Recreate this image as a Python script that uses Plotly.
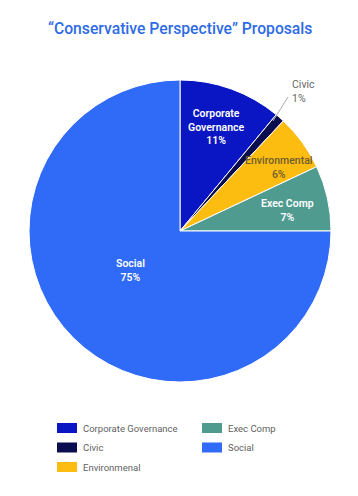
import plotly.graph_objects as go

categories = ["Corporate Governance", "Civic", "Environmental", "Exec Comp", "Social"]
legend_names = ["Corporate Governance", "Civic", "Environmenal", "Exec Comp", "Social"]
values = [11, 1, 6, 7, 75]
colors = ["#0a16c4", "#0a0d4e", "#fdbd10", "#4f9b90", "#2f6bf7"]
label_names = ["Corporate<br>Governance", "Civic", "Environmental", "Exec Comp", "Social"]
label_colors = ["white", "#666666", "#6e5c2c", "white", "white"]

OFF = 8  # page body margin
W, H = 358 - OFF, 496 - OFF
cx, cy, r = 180, 231, 151
FONT = "Roboto, Arial, sans-serif"

def px(x):
    return (x - OFF) / W

def py(y):
    return 1 - (y - OFF) / H

fig = go.Figure()
fig.add_trace(go.Pie(
    labels=categories,
    values=values,
    sort=False,
    direction="clockwise",
    rotation=0,
    marker=dict(colors=colors, line=dict(color="white", width=1)),
    textinfo="none",
    hoverinfo="label+percent",
    showlegend=False,
    domain=dict(x=[px(cx - r), px(cx + r)], y=[py(cy + r), py(cy - r)]),
))

# label positions (pixels)
label_pos = [(216, 127), (290, 91), (279, 168), (287, 211), (130, 270)]
annotations = []
total = sum(values)
for i, (name, v) in enumerate(zip(label_names, values)):
    x, y = label_pos[i]
    pct = round(100 * v / total)
    if name == "Civic":
        annotations.append(dict(
            x=px(x), y=py(y), xref="paper", yref="paper",
            text=f"{name}<br>{pct}%", showarrow=False, xanchor="left", yanchor="middle",
            align="left",
            font=dict(family=FONT, size=10.5, color=label_colors[i]),
        ))
    else:
        annotations.append(dict(
            x=px(x), y=py(y), xref="paper", yref="paper",
            text=f"{name}<br>{pct}%", showarrow=False, xanchor="center", yanchor="middle",
            align="center",
            font=dict(family=FONT, size=10.5, color=label_colors[i],
                      weight=600 if label_colors[i] == "white" else 500),
        ))

shapes = [dict(type="line", xref="paper", yref="paper",
               x0=px(273), y0=py(121), x1=px(288), y1=py(97),
               line=dict(color="#aaaaaa", width=1))]

# manual legend
col_x = [57, 202]
row_y = [428, 447.5, 467]
for i, (name, c) in enumerate(zip(legend_names, colors)):
    col, row = i // 3, i % 3
    x0 = col_x[col]
    yc = row_y[row]
    shapes.append(dict(type="rect", xref="paper", yref="paper",
                       x0=px(x0), x1=px(x0 + 20), y0=py(yc + 5), y1=py(yc - 5),
                       fillcolor=c, line=dict(width=0)))
    annotations.append(dict(
        x=px(x0 + 24), y=py(yc), xref="paper", yref="paper", text=name,
        showarrow=False, xanchor="left", yanchor="middle",
        font=dict(family=FONT, size=9.5, color="#5f5f5f"),
    ))

annotations.append(dict(
    x=px(180), y=py(28), xref="paper", yref="paper",
    text="\u201cConservative Perspective\u201d Proposals",
    showarrow=False, xanchor="center", yanchor="middle",
    font=dict(family=FONT, size=15.7, color="#2e6be6", weight=500),
))

fig.update_layout(
    width=W, height=H,
    margin=dict(l=0, r=0, t=0, b=0),
    paper_bgcolor="white",
    plot_bgcolor="white",
    showlegend=False,
    annotations=annotations,
    shapes=shapes,
)

fig.write_html("out.html")
